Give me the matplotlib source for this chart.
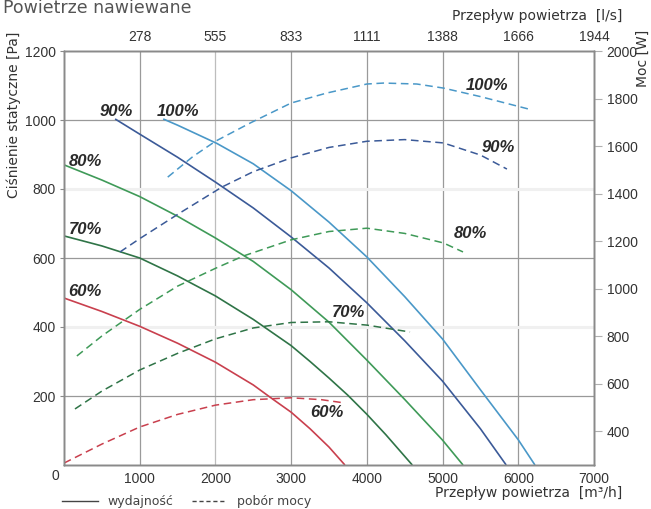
import matplotlib
matplotlib.use('Agg')
import matplotlib.pyplot as plt
from matplotlib.lines import Line2D

# ---- data (flow m3/h, static pressure Pa) ----
flow_p60 = [0, 500, 1000, 1500, 2000, 2500, 2750, 3000, 3250, 3500, 3710]
pa_60 = [484, 445, 402, 353, 298, 232, 192, 153, 105, 52, 0]
flow_p70 = [0, 500, 1000, 1500, 2000, 2500, 3000, 3250, 3500, 3750, 4000, 4250, 4600]
pa_70 = [664, 635, 600, 548, 490, 422, 346, 300, 252, 202, 147, 88, 0]
flow_p80 = [0, 500, 1000, 1500, 2000, 2500, 3000, 3500, 4000, 4500, 5000, 5270]
pa_80 = [870, 826, 778, 721, 658, 590, 508, 414, 304, 190, 72, 0]
flow_p90 = [675, 1000, 1500, 2000, 2500, 3000, 3500, 4000, 4500, 5000, 5500, 5840]
pa_90 = [1003, 959, 892, 820, 745, 661, 571, 470, 360, 243, 105, 0]
flow_p100 = [1310, 1500, 2020, 2500, 3000, 3500, 4000, 4500, 5000, 5500, 6000, 6220]
pa_100 = [1003, 985, 932, 873, 795, 704, 603, 488, 365, 218, 73, 0]

# ---- data (flow m3/h, power W) ----
flow_w60 = [0, 250, 500, 1000, 1500, 2000, 2500, 3000, 3400, 3710]
w_60 = [265, 305, 345, 417, 470, 509, 532, 540, 532, 518]
flow_w70 = [145, 500, 1000, 1500, 2000, 2500, 3000, 3500, 4000, 4570]
w_70 = [493, 568, 657, 727, 788, 834, 857, 860, 846, 817]
flow_w80 = [170, 500, 780, 1000, 1500, 2000, 2370, 3000, 3500, 4000, 4500, 5010, 5270]
w_80 = [716, 800, 863, 912, 1010, 1085, 1137, 1205, 1240, 1254, 1232, 1192, 1154]
flow_w90 = [740, 1000, 1530, 2085, 2500, 3000, 3500, 4000, 4500, 5010, 5500, 5850]
w_90 = [1154, 1210, 1318, 1427, 1492, 1550, 1594, 1620, 1627, 1613, 1562, 1503]
flow_w100 = [1370, 1700, 2000, 2460, 3000, 3470, 4000, 4220, 4660, 5010, 5500, 6180]
w_100 = [1469, 1555, 1620, 1697, 1781, 1823, 1861, 1865, 1861, 1844, 1808, 1752]

speeds = ['60%', '70%', '80%', '90%', '100%']
colors = ['#c9404e', '#2f7447', '#3f9a58', '#3b5a98', '#4a98c8']

left_label_x = [277, 277, 277, 687, 1506]
left_label_y = [504, 684, 881, 1026, 1026]
right_label_x = [3474, 3751, 5362, 5732, 5587]
right_label_y = [151, 443, 670, 919, 1101]

x_ticks = [1000, 2000, 3000, 4000, 5000, 6000, 7000]
top_tick_labels = ['278', '555', '833', '1111', '1388', '1666', '1944']
y_ticks = [200, 400, 600, 800, 1000, 1200]
w_ticks = [400, 600, 800, 1000, 1200, 1400, 1600, 1800, 2000]

W, H = 651, 509
fig = plt.figure(figsize=(W / 100, H / 100), dpi=100)
ax = fig.add_axes([64 / W, 44 / H, 530 / W, 414 / H])
ax.set_xlim(0, 7000)
ax.set_ylim(0, 1200)

tick_font = dict(family='Liberation Sans', size=10, color='#333333')
label_font = dict(family='DejaVu Sans', size=10, color='#333333')

# grid
for v in x_ticks[:-1]:
    ax.axvline(v, color='#bdbdbd' if v == 2000 else '#9a9a9a', lw=0.9, zorder=0)
for v in y_ticks[:-1]:
    if v in (400, 800):
        ax.axhline(v, color='#f0f0f0', lw=2.2, zorder=0)
    else:
        ax.axhline(v, color='#999999', lw=0.9, zorder=0)

ax2 = ax.twinx()
ax2.set_ylim(257, 2000)
ax3 = ax.twiny()
ax3.set_xlim(0, 7000)

pres = [(flow_p60, pa_60), (flow_p70, pa_70), (flow_p80, pa_80), (flow_p90, pa_90), (flow_p100, pa_100)]
powr = [(flow_w60, w_60), (flow_w70, w_70), (flow_w80, w_80), (flow_w90, w_90), (flow_w100, w_100)]
for (fx, py), c in zip(pres, colors):
    ax.plot(fx, py, color=c, lw=1.2, solid_capstyle='butt', solid_joinstyle='round')
for (fx, pw), c in zip(powr, colors):
    ax2.plot(fx, pw, color=c, lw=1.1, linestyle=(0, (5, 3)))

lab = dict(fontsize=12, fontweight='bold', fontstyle='italic', family='Liberation Sans',
           color='#2a2a2a', ha='center', va='center')
for s, x, y in zip(speeds, left_label_x, left_label_y):
    ax.text(x, y, s, **lab)
for s, x, y in zip(speeds, right_label_x, right_label_y):
    ax.text(x, y, s, **lab)

# spines
for a in (ax, ax2, ax3):
    for sp in a.spines.values():
        sp.set_color('#8a8a8a')
        sp.set_linewidth(1.0)

ax.set_xticks(x_ticks)
ax.set_xticklabels([str(t) for t in x_ticks], **tick_font)
ax.set_yticks(y_ticks)
ax.set_yticklabels([str(t) for t in y_ticks], **tick_font)
ax.tick_params(axis='x', length=0, pad=5)
ax.tick_params(axis='y', length=3, color='#8a8a8a', pad=3)

ax3.set_xticks(x_ticks)
ax3.set_xticklabels(top_tick_labels, **tick_font)
ax3.tick_params(axis='x', length=0, pad=5)

ax2.set_yticks(w_ticks)
ax2.set_yticklabels([str(t) for t in w_ticks], **tick_font)
ax2.tick_params(axis='y', length=6, color='#b0b0b0', pad=3)

def px(x, y):
    return x / W, 1 - y / H

fig.text(*px(55, 476), '0', ha='center', va='center', **tick_font)

fig.text(*px(3, 13), 'Powietrze nawiewane', ha='left', va='baseline',
         family='DejaVu Sans', size=12.5, color='#555555')
fig.text(*px(622, 16), 'Przepływ powietrza  [l/s]', ha='right', va='center', **label_font)
fig.text(*px(622, 493), 'Przepływ powietrza  [m³/h]', ha='right', va='center', **label_font)
fig.text(*px(14, 32), 'Ciśnienie statyczne [Pa]', ha='center', va='top', rotation=90, **label_font)
fig.text(*px(643, 30), 'Moc [W]', ha='center', va='top', rotation=90, **label_font)

# legend
fig.add_artist(Line2D([62 / W, 98 / W], [1 - 501 / H] * 2, color='#444444', lw=1.0))
fig.text(*px(107, 501), 'wydajność', ha='left', va='center', family='DejaVu Sans', size=9, color='#444444')
fig.add_artist(Line2D([192 / W, 226 / W], [1 - 501 / H] * 2, color='#444444', lw=1.0, linestyle=(0, (3, 2))))
fig.text(*px(237, 501), 'pobór mocy', ha='left', va='center', family='DejaVu Sans', size=9, color='#444444')

fig.savefig('out.png', dpi=100)
